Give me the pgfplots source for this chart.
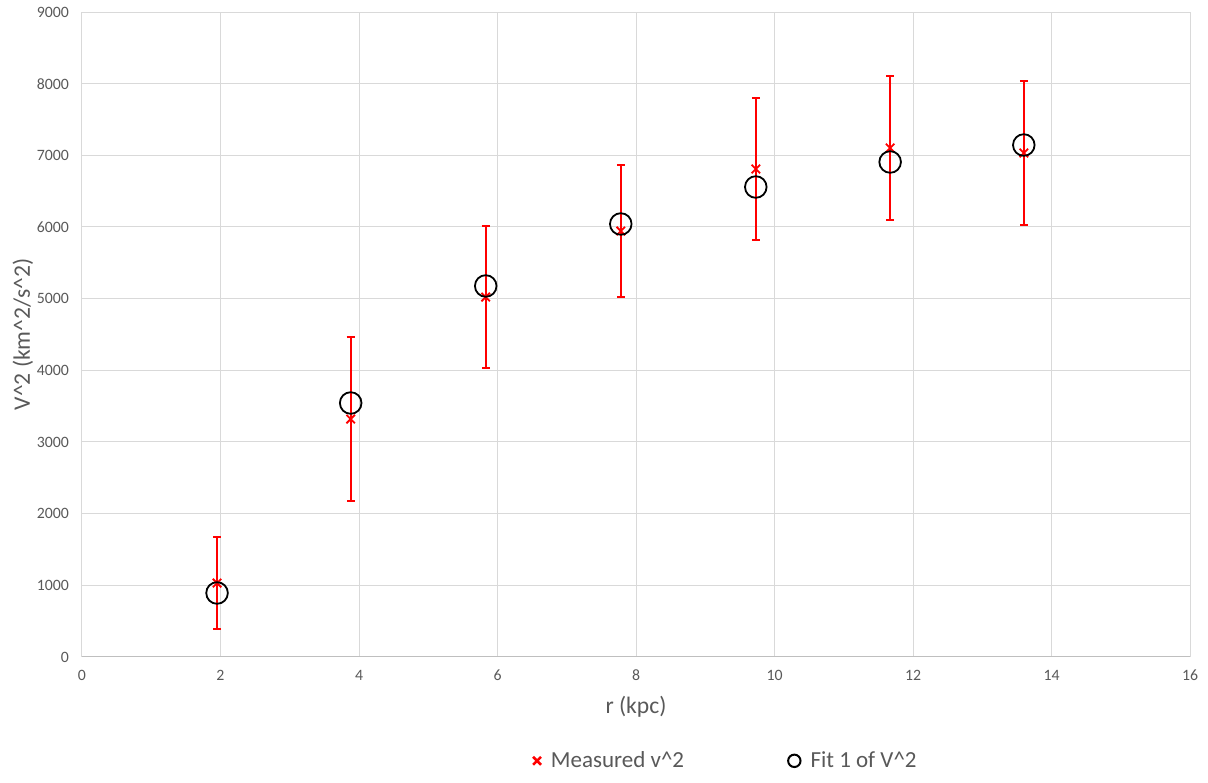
\documentclass[border=0pt]{standalone}
\usepackage{pgfplots}
\pgfplotsset{compat=1.18}
\usepackage{fontspec}
\setmainfont{Carlito}
\usetikzlibrary{calc}
\definecolor{gridgray}{HTML}{D9D9D9}
\definecolor{axgray}{HTML}{BFBFBF}
\definecolor{txtgray}{HTML}{595959}

% measured v^2 with symmetric errors, and the fitted curve values
\pgfplotstableread{
r      v2     err
1.95   1032   640
3.88   3320   1144
5.83   5023   990
7.78   5944   920
9.73   6809   990
11.67  7102   1005
13.60  7032   1005
}\measured
\pgfplotstableread{
r      v2
1.95   893
3.88   3544
5.83   5177
7.78   6042
9.73   6558
11.67  6907
13.60  7144
}\fitone

\begin{document}
\begin{tikzpicture}
\begin{axis}[
  scale only axis,
  width=554pt, height=322.5pt,
  xmin=0, xmax=16, ymin=0, ymax=9000,
  xtick={0,2,...,16}, ytick={0,1000,...,9000},
  grid=major,
  major grid style={gridgray, line width=0.5pt},
  axis line style={gridgray, line width=0.5pt},
  tick style={draw=none},
  scaled y ticks=false,
  /pgf/number format/assume math mode=true,
  /pgf/number format/1000 sep={},
  tick label style={font=\fontsize{7.9}{9}\selectfont, text=txtgray},
  xticklabel style={yshift=-3pt},
  yticklabel style={xshift=-3pt},
  xlabel={r (kpc)}, ylabel={V\^{}2 (km\^{}2/s\^{}2)},
  label style={font=\fontsize{11.8}{13}\selectfont, text=txtgray},
  xlabel style={yshift=-1pt},
  ylabel style={yshift=-5pt},
  legend columns=2,
  legend style={at={(0.582,-0.161)}, anchor=center, draw=none,
    font=\fontsize{11.5}{13}\selectfont, text=txtgray,
    /tikz/every even column/.append style={column sep=50pt},
    /tikz/every odd column/.append style={column sep=3pt}},
  legend cell align=left,
  legend image code/.code={\draw[#1] plot coordinates {(0cm,0cm)};},
]
\addplot[red, only marks, mark=x, mark size=3pt, line width=0.9pt,
  legend image post style={mark size=2.8pt, line width=1.3pt},
  error bars/.cd, y dir=both, y explicit,
  error bar style={red, line width=0.9pt},
  error mark options={rotate=90, red, mark size=2pt, line width=0.9pt}]
  table[x=r, y=v2, y error=err] {\measured};
\addlegendentry{Measured v\^{}2}
\addplot[black, only marks, mark=o, mark size=5.4pt, line width=0.9pt,
  legend image post style={mark size=3.1pt, line width=1pt}]
  table[x=r, y=v2] {\fitone};
\addlegendentry{Fit 1 of V\^{}2}
\draw[axgray, line width=0.6pt] (rel axis cs:0,0) -- (rel axis cs:1,0);
\end{axis}
\pgfresetboundingbox
\path ($(current axis.south west)+(-41pt,-63pt)$) rectangle ($(current axis.north east)+(9pt,6pt)$);
\end{tikzpicture}
\end{document}
